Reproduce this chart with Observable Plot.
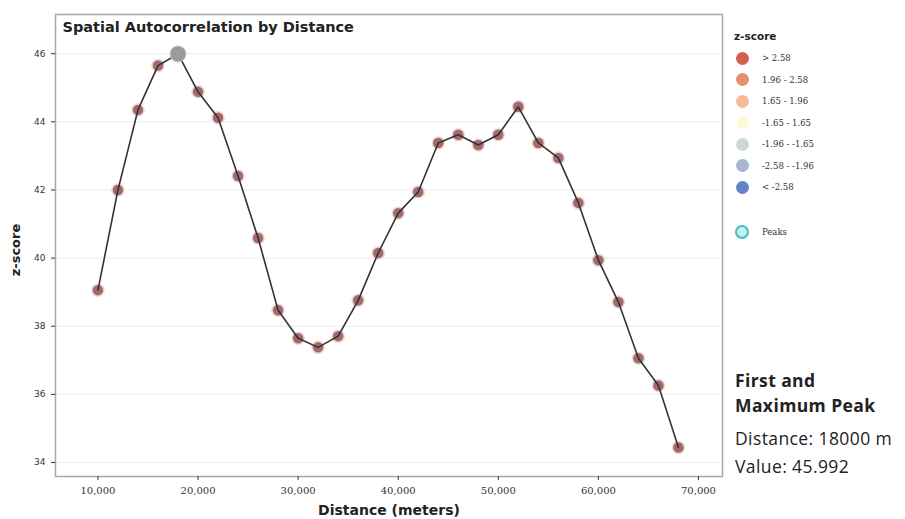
<!DOCTYPE html>
<html>
<head>
<meta charset="utf-8">
<script src="https://cdn.jsdelivr.net/npm/d3@7"></script>
<script src="https://cdn.jsdelivr.net/npm/@observablehq/plot@0.6"></script>
<style>
  body { margin: 0; background: #fff; font-family: "DejaVu Sans", sans-serif; }
  #wrap { position: relative; width: 905px; height: 519px; overflow: hidden; }
  .lbl { position: absolute; white-space: nowrap; color: #222; font-family: "DejaVu Sans", sans-serif; }
  .leg { position: absolute; font-size: 8.5px; line-height: 10px; color: #333; white-space: nowrap; font-family: "DejaVu Serif", serif; }
  .sw { position: absolute; width: 13px; height: 13px; border-radius: 50%; }
  .ann { position: absolute; font-family: "Open Sans", sans-serif; font-size: 17.5px; line-height: 18px; letter-spacing: 0.4px; color: #222; white-space: nowrap; }
  svg g[aria-label="x-axis tick label"] text { font-size: 10px; }
  svg g[aria-label="y-axis tick label"] text { font-size: 9px; }
</style>
</head>
<body>
<div id="wrap"></div>
<script>
// Data
const distances = [10000, 12000, 14000, 16000, 18000, 20000, 22000, 24000, 26000, 28000,
                   30000, 32000, 34000, 36000, 38000, 40000, 42000, 44000, 46000, 48000,
                   50000, 52000, 54000, 56000, 58000, 60000, 62000, 64000, 66000, 68000];
const zscores = [39.06, 42.0, 44.35, 45.65, 45.992, 44.88, 44.12, 42.41, 40.59, 38.47,
                 37.65, 37.38, 37.71, 38.76, 40.15, 41.32, 41.94, 43.38, 43.62, 43.32,
                 43.62, 44.44, 43.38, 42.94, 41.62, 39.94, 38.71, 37.06, 36.26, 34.44];
const yTicks = [34, 36, 38, 40, 42, 44, 46];
const xTicks = [10000, 20000, 30000, 40000, 50000, 60000, 70000];
const peakDistance = 18000;
const peakValue = 45.992;
const legendLabels = ["> 2.58", "1.96 - 2.58", "1.65 - 1.96", "-1.65 - 1.65", "-1.96 - -1.65", "-2.58 - -1.96", "< -2.58"];
const legendColors = ["#d3604f", "#e4906e", "#f3bc98", "#fdf8d6", "#cdd8d4", "#a9b5cf", "#6382c6"];

const data = distances.map((d, i) => ({distance: d, z: zscores[i]}));
const peak = data.filter(d => d.distance === peakDistance);

const plot = Plot.plot({
  width: 905,
  height: 519,
  marginLeft: 55,
  marginRight: 183,
  marginTop: 14,
  marginBottom: 43,
  style: {fontFamily: "'DejaVu Sans', sans-serif", fontSize: "9px", color: "#333", background: "#fff"},
  x: {domain: [5760, 72400], ticks: xTicks, tickFormat: d3.format(",")},
  y: {domain: [33.59, 47.15], ticks: yTicks},
  marks: [
    Plot.gridY(yTicks, {stroke: "#ececec", strokeOpacity: 1, strokeWidth: 1}),
    Plot.frame({stroke: "#a8a8a8", strokeWidth: 1.5}),
    Plot.axisX({ticks: xTicks, tickFormat: d3.format(","), tickSize: 4, label: null, tickPadding: 6, fontFamily: "'DejaVu Serif', serif"}),
    Plot.axisY({ticks: yTicks, tickSize: 4, label: null, tickPadding: 6}),
    Plot.dot(data, {x: "distance", y: "z", r: 6, fill: "#a36a6a", stroke: "#f0d6d6", strokeWidth: 1.5}),
    Plot.line(data, {x: "distance", y: "z", stroke: "#333", strokeWidth: 1.6}),
    Plot.dot(peak, {x: "distance", y: "z", r: 8, fill: "#9a9a9a", stroke: "#c8c8c8", strokeWidth: 1}),
    Plot.text(["Spatial Autocorrelation by Distance"], {frameAnchor: "top-left", dx: 7, dy: 7, fontSize: 14.5, fontWeight: "bold", fill: "#222", textAnchor: "start", lineAnchor: "top"})
  ]
});

const wrap = document.getElementById("wrap");
wrap.appendChild(plot);
plot.style.position = "absolute";
plot.style.left = "0px";
plot.style.top = "0px";

function addDiv(cls, text, css) {
  const d = document.createElement("div");
  d.className = cls;
  if (text !== null) d.textContent = text;
  Object.assign(d.style, css);
  wrap.appendChild(d);
  return d;
}

// axis titles
addDiv("lbl", "Distance (meters)", {left: "389px", top: "502px", transform: "translateX(-50%)", fontSize: "14px", fontWeight: "bold"});
addDiv("lbl", "z-score", {left: "15px", top: "250px", transform: "translate(-50%, -50%) rotate(-90deg)", fontSize: "13px", fontWeight: "bold"});

// legend
addDiv("lbl", "z-score", {left: "734px", top: "30px", fontSize: "10.5px", fontWeight: "bold"});
legendLabels.forEach((t, i) => {
  const cy = 58 + i * 21.5;
  addDiv("sw", null, {left: (742 - 6.5) + "px", top: (cy - 6.5) + "px", background: legendColors[i]});
  addDiv("leg", t, {left: "762px", top: (cy - 5) + "px"});
});
addDiv("sw", null, {left: "735px", top: "225px", width: "10px", height: "10px", background: "#c4eeee", border: "2px solid #46bcc4"});
addDiv("leg", "Peaks", {left: "762px", top: "227px"});

// annotation
addDiv("ann", "First and", {left: "735px", top: "371px", fontWeight: "bold"});
addDiv("ann", "Maximum Peak", {left: "735px", top: "396px", fontWeight: "bold"});
addDiv("ann", "Distance: " + peakDistance + " m", {left: "735px", top: "429px"});
addDiv("ann", "Value: " + peakValue, {left: "735px", top: "457px"});
</script>
</body>
</html>
